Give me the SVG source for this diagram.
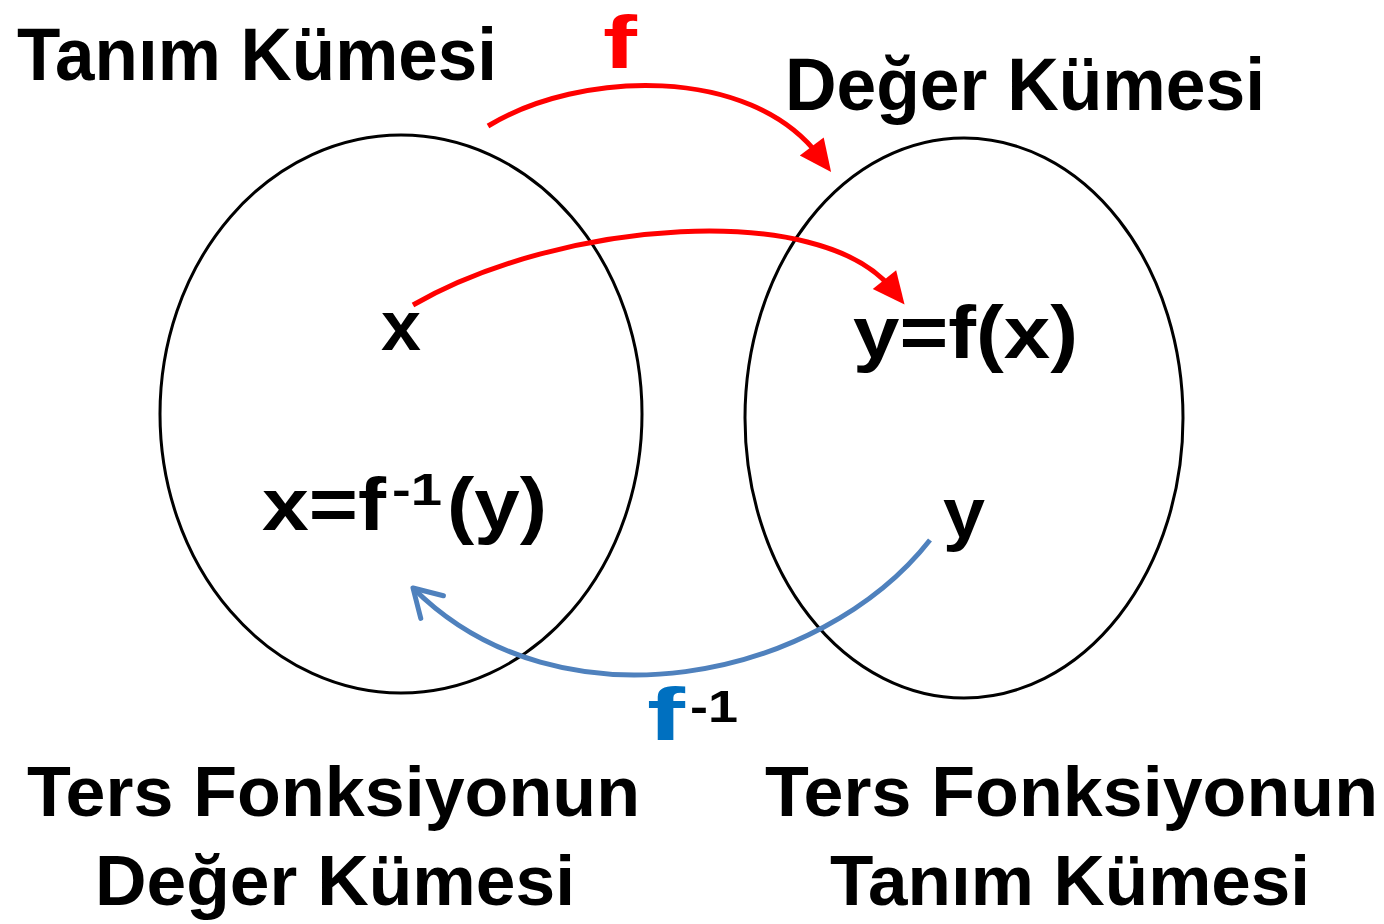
<svg xmlns="http://www.w3.org/2000/svg" width="1384" height="924" viewBox="0 0 1384 924">
<style>
.t{font-family:"Liberation Sans",Arial,sans-serif;font-weight:bold;fill:#000}
.set{fill:none;stroke:#000;stroke-width:3}
.red{fill:none;stroke:#ff0000;stroke-width:5}
.blue{fill:none;stroke:#4f81bd;stroke-width:5}
</style>
<defs>
<marker id="ah-red" markerUnits="userSpaceOnUse" markerWidth="40" markerHeight="40" refX="12" refY="15" orient="auto" overflow="visible">
<path d="M0,0 L32,15 L0,30 Z" fill="#ff0000"/>
</marker>
<marker id="ah-blue" markerUnits="userSpaceOnUse" markerWidth="40" markerHeight="40" refX="28" refY="16" orient="auto" overflow="visible">
<path d="M1,0 L28,16 L1,32" fill="none" stroke="#4f81bd" stroke-width="5" stroke-linecap="round" stroke-linejoin="round"/>
</marker>
</defs>
<rect width="1384" height="924" fill="#fff"/>

<g id="domain">
<ellipse class="set" cx="401" cy="414" rx="241" ry="279"/>
<text class="t" x="17" y="80" font-size="74" textLength="480" lengthAdjust="spacingAndGlyphs">Tanım Kümesi</text>
<text class="t" x="381" y="350" font-size="70" textLength="40" lengthAdjust="spacingAndGlyphs">x</text>
<text class="t" x="262" y="530" font-size="74" textLength="124" lengthAdjust="spacingAndGlyphs">x=f</text>
<text class="t" x="392" y="505" font-size="44" textLength="50" lengthAdjust="spacingAndGlyphs">-1</text>
<text class="t" x="447" y="530" font-size="74" textLength="100" lengthAdjust="spacingAndGlyphs">(y)</text>
<text class="t" x="27" y="816" font-size="71" textLength="613" lengthAdjust="spacingAndGlyphs">Ters Fonksiyonun</text>
<text class="t" x="95" y="905" font-size="71" textLength="480" lengthAdjust="spacingAndGlyphs">Değer Kümesi</text>
</g>

<g id="range">
<ellipse class="set" cx="964" cy="418" rx="219" ry="280"/>
<text class="t" x="785" y="110" font-size="74" textLength="480" lengthAdjust="spacingAndGlyphs">Değer Kümesi</text>
<text class="t" x="853" y="358" font-size="74" textLength="225" lengthAdjust="spacingAndGlyphs">y=f(x)</text>
<text class="t" x="943" y="537" font-size="70" textLength="42" lengthAdjust="spacingAndGlyphs">y</text>
<text class="t" x="765" y="816" font-size="71" textLength="613" lengthAdjust="spacingAndGlyphs">Ters Fonksiyonun</text>
<text class="t" x="830" y="905" font-size="71" textLength="480" lengthAdjust="spacingAndGlyphs">Tanım Kümesi</text>
</g>

<g id="connectors">
<path class="red" d="M488,126 C580,70 750,65 819,156" marker-end="url(#ah-red)"/>
<path class="red" d="M413,305 C560,220 820,200 892,289" marker-end="url(#ah-red)"/>
<path class="blue" d="M930,540 C820,680 560,735 413,588" marker-end="url(#ah-blue)"/>
</g>

<g id="labels">
<text class="t" x="603" y="68" font-size="74" style="fill:#ff0000" textLength="34" lengthAdjust="spacingAndGlyphs">f</text>
<text class="t" x="647" y="740" font-size="74" style="fill:#0070c0" textLength="38" lengthAdjust="spacingAndGlyphs">f</text>
<text class="t" x="690" y="722" font-size="44" textLength="48" lengthAdjust="spacingAndGlyphs">-1</text>
</g>
</svg>
